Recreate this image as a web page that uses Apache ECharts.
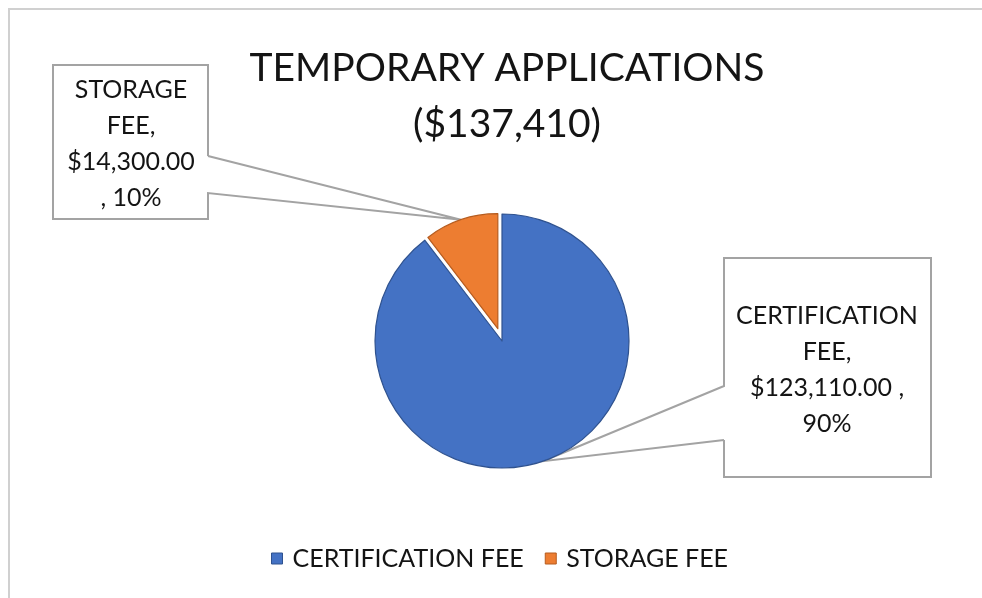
<!DOCTYPE html>
<html><head><meta charset="utf-8">
<script src="https://cdn.jsdelivr.net/npm/echarts@6/dist/echarts.min.js"></script>
<style>html,body{margin:0;padding:0;background:#fff}#c{width:982px;height:598px}</style>
</head><body><div id="c"></div>
<script>
// ---- data ----
const categories = ['CERTIFICATION FEE', 'STORAGE FEE'];
const values = [123110, 14300];
const colors = ['#4472C4', '#ED7D31'];
const borderColors = ['#2F528F', '#B65C1F'];
const titleText = 'TEMPORARY APPLICATIONS';

const total = values.reduce((a, b) => a + b, 0);
const fmtMoney = v => '$' + v.toLocaleString('en-US', {minimumFractionDigits: 2, maximumFractionDigits: 2});
const pct = v => Math.round(v / total * 100);

function labelText(i) {
  const w = categories[i].split(' ');
  if (i === 0) return w[0] + '\n' + w[1] + ',\n' + fmtMoney(values[i]) + ' ,\n' + pct(values[i]) + '%';
  return w[0] + '\n' + w[1] + ',\n' + fmtMoney(values[i]) + '\n, ' + pct(values[i]) + '%';
}

// ---- layout (callout boxes) ----
const boxes = [
  {l: 724, t: 258, r: 931, b: 477, side: 'left', w1: 386, w2: 440, cx: 827, cy: 370},
  {l: 53, t: 65, r: 208, b: 219, side: 'right', w1: 156, w2: 193, cx: 131, cy: 144}
];
function calloutLayout(params) {
  const b = boxes[params.dataIndex];
  const tip = params.labelLinePoints ? params.labelLinePoints[0] : [b.l, b.t];
  let pts;
  if (b.side === 'right') {
    pts = [[b.r, b.w1], tip, [b.r, b.w2], [b.r, b.b], [b.l, b.b], [b.l, b.t], [b.r, b.t], [b.r, b.w1]];
  } else {
    pts = [[b.l, b.w2], tip, [b.l, b.w1], [b.l, b.t], [b.r, b.t], [b.r, b.b], [b.l, b.b], [b.l, b.w2]];
  }
  return {x: b.cx, y: b.cy, align: 'center', verticalAlign: 'middle', labelLinePoints: pts};
}

const CENTER = [502, 341];
const R_MAIN = 127, R_EXPLODED = 115, EXPLODE = 13;
// mid angle of exploded slice (storage), start at 12 o'clock, clockwise
const midFrac = (values[0] + values[1] / 2) / total;
const midRad = (90 - 360 * midFrac) * Math.PI / 180;
const CENTER_B = [CENTER[0] + Math.cos(midRad) * EXPLODE, CENTER[1] - Math.sin(midRad) * EXPLODE];

const FONT = 'Lato';
const TXT = '#141414';
const labelBase = {
  show: true, position: 'outside', fontFamily: FONT, fontSize: 25, lineHeight: 36,
  color: TXT, align: 'center', overflow: 'none',
  formatter: p => labelText(p.dataIndex)
};
const lineBase = {show: true, length: 4, length2: 4, lineStyle: {color: '#a3a3a3', width: 2}};

function seriesData(visibleIdx) {
  return categories.map((n, i) => {
    const vis = i === visibleIdx;
    return {
      name: n, value: values[i],
      itemStyle: vis ? {color: colors[i], borderColor: borderColors[i], borderWidth: 1.2}
                     : {color: 'rgba(0,0,0,0)', borderWidth: 0},
      label: {show: vis},
      labelLine: {show: vis}
    };
  });
}

const chart = echarts.init(document.getElementById('c'), null, {renderer: 'canvas'});
chart.setOption({
  animation: false,
  backgroundColor: '#fff',
  title: {
    text: titleText + '\n($' + total.toLocaleString('en-US') + ')',
    left: 502, top: 35, textAlign: 'center',
    textStyle: {fontFamily: FONT, fontSize: 39, fontWeight: 'normal', color: TXT, lineHeight: 56}
  },
  legend: {
    data: categories.map((n, i) => ({name: n, itemStyle: {color: colors[i], borderColor: borderColors[i], borderWidth: 1}})),
    left: 266, top: 541, icon: 'rect', itemWidth: 11, itemHeight: 11, itemGap: 21,
    selectedMode: false,
    textStyle: {fontFamily: FONT, fontSize: 25, color: TXT, padding: [0, 0, 0, 5]}
  },
  graphic: [
    {type: 'line', shape: {x1: 8, y1: 9, x2: 982, y2: 9}, style: {stroke: '#d0d0d0', lineWidth: 2}, silent: true},
    {type: 'line', shape: {x1: 9, y1: 9, x2: 9, y2: 598}, style: {stroke: '#d0d0d0', lineWidth: 2}, silent: true}
  ],
  series: [
    {
      type: 'pie', center: CENTER, radius: R_MAIN, startAngle: 90, clockwise: true,
      avoidLabelOverlap: false, silent: true, emphasis: {disabled: true},
      label: labelBase, labelLine: lineBase, labelLayout: calloutLayout,
      data: seriesData(0)
    },
    {
      type: 'pie', center: CENTER_B, radius: R_EXPLODED, startAngle: 90, clockwise: true,
      avoidLabelOverlap: false, silent: true, emphasis: {disabled: true},
      label: labelBase, labelLine: lineBase, labelLayout: calloutLayout,
      data: seriesData(1)
    }
  ]
});
</script>
</body></html>
